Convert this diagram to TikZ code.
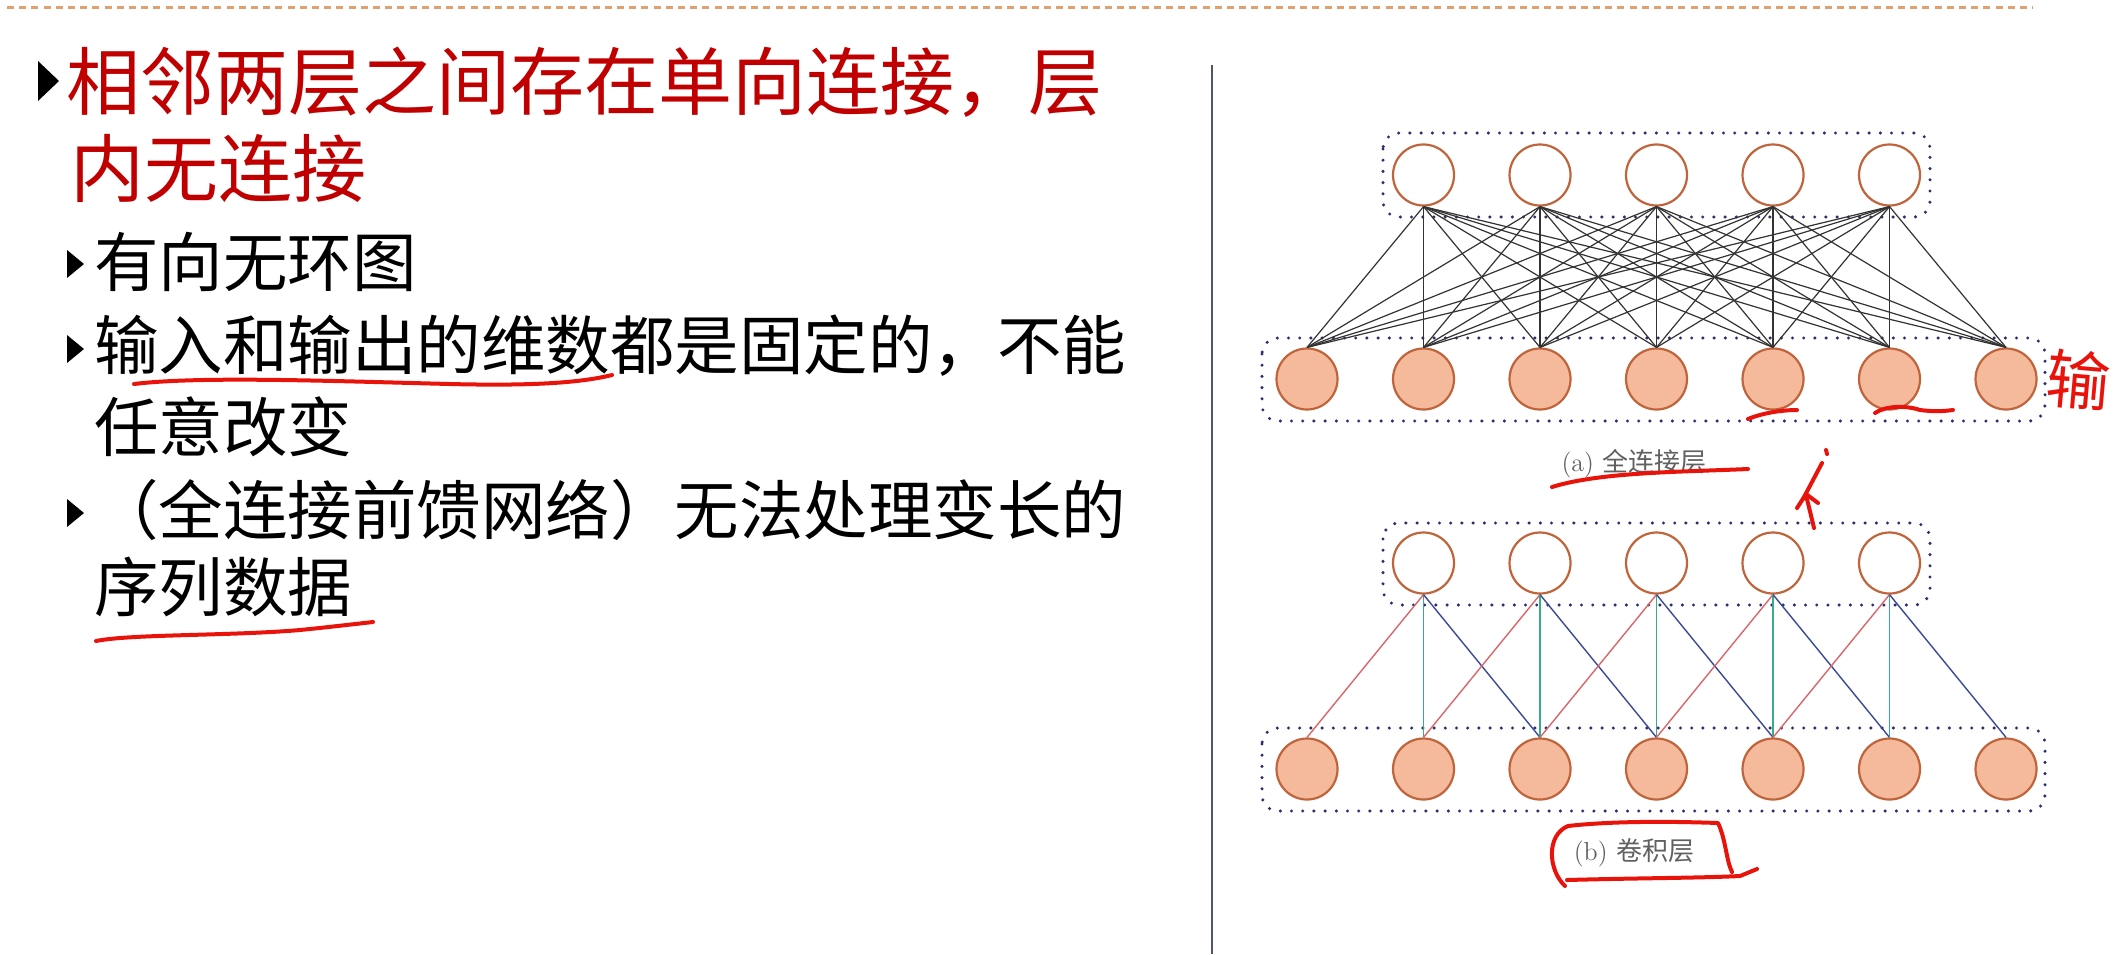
\documentclass[tikz,border=0pt]{standalone}
\usepackage{fontspec}
\newfontfamily\cjk{Noto Sans CJK SC}
\definecolor{titlered}{HTML}{C00000}
\definecolor{nodeedge}{HTML}{C0643C}
\definecolor{nodefill}{HTML}{F5B99B}
\definecolor{boxdot}{HTML}{2E2E6E}
\definecolor{penred}{HTML}{E8140C}
\definecolor{convred}{HTML}{D9666A}
\definecolor{convgreen}{HTML}{3AAA88}
\definecolor{convblue}{HTML}{3A4A98}
\definecolor{topdash}{HTML}{E0A070}
\definecolor{divider}{HTML}{50566A}
\definecolor{captiongray}{HTML}{606060}
\begin{document}
\begin{tikzpicture}[x=0.5pt,y=-0.5pt,
  neuron/.style={circle,draw=nodeedge,line width=1.1pt,minimum size=30.5pt,inner sep=0pt},
  inneuron/.style={neuron,fill=nodefill},
  outneuron/.style={neuron,fill=white},
  layerbox/.style={draw=boxdot,line width=1.7pt,line cap=round,dash pattern=on 0pt off 5.6pt,rounded corners=8pt},
  fcline/.style={draw=black!80,line width=0.6pt},
  redline/.style={draw=convred,line width=0.7pt},
  greenline/.style={draw=convgreen,line width=0.7pt},
  blueline/.style={draw=convblue,line width=0.7pt},
  pen/.style={draw=penred,line width=2pt,line cap=round,line join=round},
  lvlone/.style={anchor=west,inner sep=0pt,font=\cjk\fontsize{37}{44}\selectfont,text=titlered},
  lvltwo/.style={anchor=west,inner sep=0pt,font=\cjk\fontsize{32.25}{40}\selectfont,text=black},
  caption/.style={inner sep=0pt,font=\fontsize{13}{15}\selectfont,text=captiongray}
]
\useasboundingbox (0,0) rectangle (2128,954);
\fill[white] (0,0) rectangle (2128,954);

% top dashed rule and divider
\draw[topdash,line width=1.5pt,dash pattern=on 3.5pt off 2.6pt] (7,7) -- (2033,7);
\draw[divider,line width=1.3pt] (1212,65) -- (1212,954);

% left text
\fill (38,61) -- (59,81) -- (38,101) -- cycle;
\node[lvlone] (l1) at (66,82) {相邻两层之间存在单向连接，层};
\node[lvlone] (l2) at (70,168) {内无连接};
\fill (67,250) -- (84,264) -- (67,278) -- cycle;
\node[lvltwo] (l3) at (94,262) {有向无环图};
\fill (67,335) -- (84,349) -- (67,363) -- cycle;
\node[lvltwo] (l4) at (94,346) {输入和输出的维数都是固定的，不能};
\node[lvltwo] (l5) at (94,427) {任意改变};
\fill (67,499) -- (84,513) -- (67,527) -- cycle;
\node[lvltwo] (l6) at (94,510) {（全连接前馈网络）无法处理变长的};
\node[lvltwo] (l7) at (94,587) {序列数据};

% boxes
\draw[layerbox] (1383,133) rectangle (1930,217);
\draw[layerbox] (1262,338) rectangle (2045,421);
\draw[layerbox] (1383,523) rectangle (1930,605);
\draw[layerbox] (1262,728) rectangle (2045,811);

% neurons
\foreach \i in {1,...,5} {
  \node[outneuron] (ta\i) at ({1423.5+116.5*(\i-1)},175) {};
  \node[outneuron] (tb\i) at ({1423.5+116.5*(\i-1)},563) {};
}
\foreach \j in {1,...,7} {
  \node[inneuron] (ba\j) at ({1307+116.5*(\j-1)},379) {};
  \node[inneuron] (bb\j) at ({1307+116.5*(\j-1)},769) {};
}

% fully connected
\foreach \i in {1,...,5} {
  \foreach \j in {1,...,7} {
    \draw[fcline] (ta\i.south) -- (ba\j.north);
  }
}
% convolution
\foreach \i in {1,...,5} {
  \pgfmathtruncatemacro{\jb}{\i+1}
  \pgfmathtruncatemacro{\jc}{\i+2}
  \draw[redline] (tb\i.south) -- (bb\i.north);
  \draw[greenline] (tb\i.south) -- (bb\jb.north);
  \draw[blueline] (tb\i.south) -- (bb\jc.north);
}

% captions
\node[caption] (capa) at (1634,464) {(a) {\cjk 全连接层}};
\node[caption] (capb) at (1634,853) {(b) {\cjk 卷积层}};

% pen annotations
\draw[pen] (134,384) .. controls (200,376) and (330,381) .. (450,384) .. controls (530,386) and (580,383) .. (612,375);
\draw[pen] (96,641) .. controls (130,634) and (230,636) .. (300,630) .. controls (330,627) and (355,624) .. (373,622);
\draw[pen] (1552,487) .. controls (1600,472) and (1680,472) .. (1748,469);
\draw[pen] (1565,886) .. controls (1548,870) and (1546,835) .. (1568,826) .. controls (1620,820) and (1690,822) .. (1718,823) .. controls (1726,840) and (1726,860) .. (1732,872);
\draw[pen] (1567,880) .. controls (1640,878) and (1700,878) .. (1740,876) -- (1757,869);
\draw[pen] (1748,419) .. controls (1765,412) and (1785,410) .. (1797,410);
\draw[pen] (1875,413) .. controls (1885,406) and (1905,405) .. (1920,410) .. controls (1935,412) and (1945,411) .. (1953,410);
\draw[pen] (1826,450) -- (1827,454);
\draw[pen] (1822,463) -- (1803,499);
\draw[pen] (1797,508) -- (1806,494) -- (1818,503);
\draw[pen] (1806,495) -- (1814,528);
\node[text=penred,font=\cjk\fontsize{32}{32}\selectfont,inner sep=0pt,rotate=-5] (hw) at (2078,380) {输};
\end{tikzpicture}
\end{document}
